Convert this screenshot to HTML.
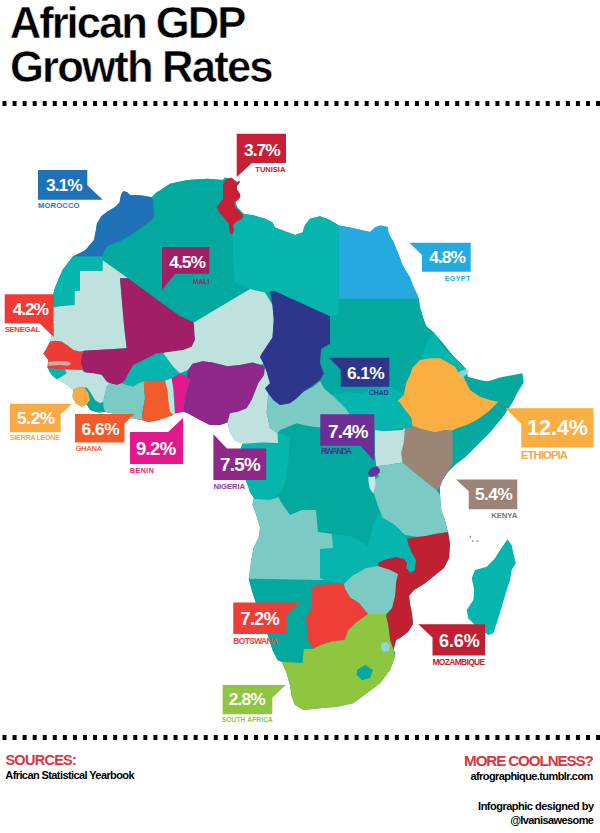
<!DOCTYPE html>
<html><head><meta charset="utf-8"><style>
html,body{margin:0;padding:0;background:#fff;}
body{width:600px;height:833px;overflow:hidden;position:relative;font-family:"Liberation Sans",sans-serif;}
svg{position:absolute;left:0;top:0;}
text{font-family:"Liberation Sans",sans-serif;font-weight:bold;}
</style></head><body>
<svg width="600" height="833" viewBox="0 0 600 833">
<g fill="#000"><rect x="2.50" y="101" width="4" height="5"/><rect x="12.56" y="101" width="4" height="5"/><rect x="22.62" y="101" width="4" height="5"/><rect x="32.68" y="101" width="4" height="5"/><rect x="42.74" y="101" width="4" height="5"/><rect x="52.80" y="101" width="4" height="5"/><rect x="62.86" y="101" width="4" height="5"/><rect x="72.92" y="101" width="4" height="5"/><rect x="82.98" y="101" width="4" height="5"/><rect x="93.04" y="101" width="4" height="5"/><rect x="103.10" y="101" width="4" height="5"/><rect x="113.16" y="101" width="4" height="5"/><rect x="123.22" y="101" width="4" height="5"/><rect x="133.28" y="101" width="4" height="5"/><rect x="143.34" y="101" width="4" height="5"/><rect x="153.40" y="101" width="4" height="5"/><rect x="163.46" y="101" width="4" height="5"/><rect x="173.52" y="101" width="4" height="5"/><rect x="183.58" y="101" width="4" height="5"/><rect x="193.64" y="101" width="4" height="5"/><rect x="203.70" y="101" width="4" height="5"/><rect x="213.76" y="101" width="4" height="5"/><rect x="223.82" y="101" width="4" height="5"/><rect x="233.88" y="101" width="4" height="5"/><rect x="243.94" y="101" width="4" height="5"/><rect x="254.00" y="101" width="4" height="5"/><rect x="264.06" y="101" width="4" height="5"/><rect x="274.12" y="101" width="4" height="5"/><rect x="284.18" y="101" width="4" height="5"/><rect x="294.24" y="101" width="4" height="5"/><rect x="304.30" y="101" width="4" height="5"/><rect x="314.36" y="101" width="4" height="5"/><rect x="324.42" y="101" width="4" height="5"/><rect x="334.48" y="101" width="4" height="5"/><rect x="344.54" y="101" width="4" height="5"/><rect x="354.60" y="101" width="4" height="5"/><rect x="364.66" y="101" width="4" height="5"/><rect x="374.72" y="101" width="4" height="5"/><rect x="384.78" y="101" width="4" height="5"/><rect x="394.84" y="101" width="4" height="5"/><rect x="404.90" y="101" width="4" height="5"/><rect x="414.96" y="101" width="4" height="5"/><rect x="425.02" y="101" width="4" height="5"/><rect x="435.08" y="101" width="4" height="5"/><rect x="445.14" y="101" width="4" height="5"/><rect x="455.20" y="101" width="4" height="5"/><rect x="465.26" y="101" width="4" height="5"/><rect x="475.32" y="101" width="4" height="5"/><rect x="485.38" y="101" width="4" height="5"/><rect x="495.44" y="101" width="4" height="5"/><rect x="505.50" y="101" width="4" height="5"/><rect x="515.56" y="101" width="4" height="5"/><rect x="525.62" y="101" width="4" height="5"/><rect x="535.68" y="101" width="4" height="5"/><rect x="545.74" y="101" width="4" height="5"/><rect x="555.80" y="101" width="4" height="5"/><rect x="565.86" y="101" width="4" height="5"/><rect x="575.92" y="101" width="4" height="5"/><rect x="585.98" y="101" width="4" height="5"/><rect x="596.04" y="101" width="4" height="5"/><rect x="2.50" y="735" width="4" height="5"/><rect x="12.56" y="735" width="4" height="5"/><rect x="22.62" y="735" width="4" height="5"/><rect x="32.68" y="735" width="4" height="5"/><rect x="42.74" y="735" width="4" height="5"/><rect x="52.80" y="735" width="4" height="5"/><rect x="62.86" y="735" width="4" height="5"/><rect x="72.92" y="735" width="4" height="5"/><rect x="82.98" y="735" width="4" height="5"/><rect x="93.04" y="735" width="4" height="5"/><rect x="103.10" y="735" width="4" height="5"/><rect x="113.16" y="735" width="4" height="5"/><rect x="123.22" y="735" width="4" height="5"/><rect x="133.28" y="735" width="4" height="5"/><rect x="143.34" y="735" width="4" height="5"/><rect x="153.40" y="735" width="4" height="5"/><rect x="163.46" y="735" width="4" height="5"/><rect x="173.52" y="735" width="4" height="5"/><rect x="183.58" y="735" width="4" height="5"/><rect x="193.64" y="735" width="4" height="5"/><rect x="203.70" y="735" width="4" height="5"/><rect x="213.76" y="735" width="4" height="5"/><rect x="223.82" y="735" width="4" height="5"/><rect x="233.88" y="735" width="4" height="5"/><rect x="243.94" y="735" width="4" height="5"/><rect x="254.00" y="735" width="4" height="5"/><rect x="264.06" y="735" width="4" height="5"/><rect x="274.12" y="735" width="4" height="5"/><rect x="284.18" y="735" width="4" height="5"/><rect x="294.24" y="735" width="4" height="5"/><rect x="304.30" y="735" width="4" height="5"/><rect x="314.36" y="735" width="4" height="5"/><rect x="324.42" y="735" width="4" height="5"/><rect x="334.48" y="735" width="4" height="5"/><rect x="344.54" y="735" width="4" height="5"/><rect x="354.60" y="735" width="4" height="5"/><rect x="364.66" y="735" width="4" height="5"/><rect x="374.72" y="735" width="4" height="5"/><rect x="384.78" y="735" width="4" height="5"/><rect x="394.84" y="735" width="4" height="5"/><rect x="404.90" y="735" width="4" height="5"/><rect x="414.96" y="735" width="4" height="5"/><rect x="425.02" y="735" width="4" height="5"/><rect x="435.08" y="735" width="4" height="5"/><rect x="445.14" y="735" width="4" height="5"/><rect x="455.20" y="735" width="4" height="5"/><rect x="465.26" y="735" width="4" height="5"/><rect x="475.32" y="735" width="4" height="5"/><rect x="485.38" y="735" width="4" height="5"/><rect x="495.44" y="735" width="4" height="5"/><rect x="505.50" y="735" width="4" height="5"/><rect x="515.56" y="735" width="4" height="5"/><rect x="525.62" y="735" width="4" height="5"/><rect x="535.68" y="735" width="4" height="5"/><rect x="545.74" y="735" width="4" height="5"/><rect x="555.80" y="735" width="4" height="5"/><rect x="565.86" y="735" width="4" height="5"/><rect x="575.92" y="735" width="4" height="5"/><rect x="585.98" y="735" width="4" height="5"/><rect x="596.04" y="735" width="4" height="5"/></g>
<polygon fill="#03a99f" points="123.2,191.2 127,192 130,195 136,195 143.5,195.7 151.7,197.2 157,192 160,190.5 170,183.75 187.5,180 207.5,178.75 222.5,180 225,177.5 232.5,178.75 238.75,182.5 236,187.5 240,193.75 235,201 237.5,207.5 243.75,213.75 252.5,215 265,218.75 272.5,222.5 275,227.5 285,231.25 295,235 302.5,232.5 305,225 310,218.75 320,216.25 330,220 338.75,225.5 350,227.5 361,230 370,232 375,227.5 380,225.5 387.5,227 388.75,233.75 393.75,242.5 398.75,255 402.5,265 410,277.5 413.75,287.5 417.5,295 420,307.5 423.75,320 426.25,326.25 433.75,332.5 442.5,342.5 452.5,355 462.5,365 466,369 468,377 480,380 492.5,382.5 505,380 517.5,375 522.5,373.75 523.75,382.5 517.5,392.5 512.5,402.5 502.5,417.5 490,432.5 477.5,445 465,457.5 455,465 452.5,467.5 447.5,472.5 442.5,480 440,487 440,495 441.25,510 445,520 448,532 450,544 449,558 444,568 434,576 424,584 414,590 409,596 410,604 412,614 413,624 408,632 400,638 396,640 394,648 393.5,650 395,651.7 395,656.7 390,670 380,683.3 366.7,693.3 353.3,703.3 336.7,706.7 320,708.3 303.3,710 295,705 291.7,696.7 290,685 286.7,673.3 281.7,661.7 277.5,660 272.5,650 268.75,637.5 262.5,622.5 257.5,607.5 252.5,592.5 248.75,578.75 250,570 251.25,560 253.75,547.5 258.75,537.5 260,527.5 256.25,515 252.5,505 253.75,497.5 250,492.5 247.5,485 243,470 238,456 242.5,443.75 235,440 230,432.5 227.5,422.5 220,425 210,425 200,420 186.25,412.5 183.3,411.7 175,413.3 173.3,415 165,418 155,421 148,422 142,420 130,418 115,414 105,411.7 98.3,412.5 90,410 86.7,404.2 81.7,406.7 75.8,403.3 72.5,396.7 73.3,390 65,383.3 56.7,379.2 51.7,375 50,372.5 47.5,367.5 48.3,360 43.3,353.3 45.8,350 50,341.7 55,322.5 53.75,307.5 52.5,297.5 55,287.5 62.5,270 73,256.3 85,250.5 94,240 96,229.5 97,223.5 101.5,216 107.5,211.5 115,207 119.5,202.5 121,195"/><polygon fill="#05b5ae" points="507.5,539.2 511.7,545 513.3,553.3 515.8,563.3 511.7,570 510,580 506.7,590 501.7,606.7 496.7,623.3 493.3,633.3 488.3,635 476.7,626.7 468.3,618.3 466.7,610 473.3,600 474.2,590 471.7,578.3 475,570 486.7,566.7 495,558.3 500,550"/><polygon fill="#05b5ae" points="73,256.3 102.7,256.3 102.7,271 80,271 80,291 74.7,291 74.7,305 60,306.3 53.75,307.5 52.5,297.5 55,287.5 62.5,270"/><polygon fill="#03a99f" points="151.7,197.2 157,192 160,190.5 170,183.75 187.5,180 207.5,178.75 223,180 225,180 223,185 223,199 220,203 217,207 219,212 225,219 229,224 229,229 230.5,234 232.5,234 233,245 232.5,260 235,282.5 250,289 193.75,322.5 128,278.3 102.7,260.3 102.7,256.3 104.5,250.5 107.5,246 122.5,240 130,235.5 139,229.5 153,219 154,216 153,199.5"/><polygon fill="#05b5ae" points="243,215 252.5,215 265,218.75 272.5,222.5 275,227.5 285,231.25 295,235 302.5,232.5 305,225 310,218.75 320,216.25 330,220 338.75,225.5 338.75,298.75 338.75,315 330,316.25 275,291.25 270,291.25 265,292.5 250,289 235,282.5 232.5,260 233,245 232.5,234 234,230 233,225 237,221 242,219"/><polygon fill="#03a99f" points="338.75,298.75 419,298.75 420,307.5 423.75,320 426.25,326.25 433.75,332.5 428,340 424,350 420,360 412.5,367.5 410,375 406.25,382.5 403.75,395 390,386 375,390 360,393 345,392 330,395 323.75,388 320,380 323.75,373.75 320,362.5 321.25,348.75 330,343.75 330,316.25 338.75,315"/><polygon fill="#05b5ae" points="330,395 345,392 360,393 375,390 390,386 403.75,395 397.5,401.25 400,402.5 405,410 411.25,417.5 412.5,426.25 405,428 393,429.5 384,431 379.5,432.5 375,430 362,428 352,422 349.5,414 345.8,408.5 336.7,399.3"/><polygon fill="#05b5ae" points="433.75,332.5 438.3,340 443.3,348.3 450,353.3 456.7,360 463.3,366.7 466.7,370 465,369.2 459.2,371.7 455,366.7 446.7,361.7 440,358.3 430,358.3 420,360 424,350 428,340"/><polygon fill="#03a99f" points="464.2,375.8 466.7,380 473.3,383.3 481.7,382.5 490,380.8 500,377.5 513.3,375 521.7,373.3 522.5,381.7 518.3,388.3 515,395 510,403.3 505,410 496.7,416.7 485,426.7 473.3,437 465,447 458,457 452.5,467.5 452.5,462.5 452.5,435 451.7,430.8 456.7,428.3 466.7,425 476.7,420 488.3,411.7 498.3,401.7 490,400 480,396.7 470,390 464.2,378.3"/><polygon fill="#05b5ae" points="242.5,443.75 262.5,442.5 274,443.7 277.5,433 290,437 289,450 288,465 286,480 282,492 278,495 270,500 259,500 254,497.7 250,489.7 246,481.7 243,470 238,456"/><polygon fill="#05b5ae" points="320,549 333,548 333,534 350,536 368,546 372,528 378,512 390,520 402,526 406,532 404,540 402,554 404,559 396,557 384,560 378,563 378,566 366,568 352,576 344,584 338,583 325,580 320,578"/><polygon fill="#05b5ae" points="404,538 407,539 409,546 412,553 416,560 415,570 411,573 406,568 407,563 404,559 402,554"/><polygon fill="#03a99f" points="248.75,578.75 252.5,592.5 257.5,607.5 262.5,622.5 268.75,637.5 272.5,650 277.5,660 281.7,661.7 302.5,663 303.75,647.5 310,647 310,635 306.25,633.75 307.5,620 310,605 310,588.75 317.5,585 337.5,583.75 325,580 317.5,580"/><polygon fill="#05b5ae" points="133.3,365 146.7,358.3 156.7,353.3 163.3,353.3 168.3,360 173.3,366.7 180,373.3 171.7,378.3 165,380.8 144.2,380.8 138.3,383.3 133.3,386.7 126.7,385 121.7,383.3 125,380 128.3,373.3"/><polygon fill="#03a99f" points="86.7,404.2 91.7,400 96.7,401.7 100,403.3 103.3,406.7 105,411.7 98.3,412.5 90,410"/><polygon fill="#05b5ae" points="47.5,367.5 50,368.3 65,369.2 65,370 66.7,373.3 61.7,376.7 56.7,379.2 51.7,375 50,372.5"/><polygon fill="#1f72b8" points="123.2,191.2 127,192 130,195 136,195 143.5,195.7 151.7,197.2 153,199.5 154,216 153,219 139,229.5 130,235.5 122.5,240 107.5,246 104.5,250.5 102.7,256.3 73,256.3 85,250.5 94,240 96,229.5 97,223.5 101.5,216 107.5,211.5 115,207 119.5,202.5 121,195"/><polygon fill="#c0e2df" points="80,271 102.7,271 102.7,260.3 128,278.3 120,278.3 124,325 126.7,348.3 84.2,350.8 80,351.7 73.3,350 66.7,345 61.7,341.7 55,340.8 50,341.7 55,322.5 53.75,307.5 60,306.3 74.7,305 74.7,291 80,291"/><polygon fill="#a01f66" points="120,278.3 128,278.3 170,309 180,316 193.75,322.5 195,340 191.7,346.7 183.3,350 165,352.5 156.7,353.3 146.7,358.3 133.3,365 128.3,373.3 125,380 121.7,383.3 116.7,385 110,383.3 106.7,381.7 101.7,375 93.3,373.3 85,372.5 82.5,368.3 80.8,363.3 81.7,355 84.2,350.8 126.7,348.3 124,325"/><polygon fill="#ef3b36" points="50,341.7 55,340.8 61.7,341.7 66.7,345 73.3,350 80,351.7 84.2,350.8 81.7,355 80.8,363.3 82.5,368.3 81.7,370 65,369.2 50,368.3 47.5,367.5 48.3,360 43.3,353.3 45.8,350"/><polygon fill="#c9aea6" points="48.3,361.7 60,361 68.3,361.7 71,363.5 68.3,365.8 60,365 48.3,365.8"/><polygon fill="#c0e2df" points="56.7,379.2 61.7,376.7 66.7,373.3 65,369.5 81.7,370 85,372.5 93.3,373.3 101.7,375 106.7,381.7 110,383.3 106.7,386.7 103.3,401.7 100,403.3 95,400 90,391.7 86.7,387.5 78.3,387.5 73.3,390 65,383.3"/><polygon fill="#7ccac4" points="103.3,401.7 106.7,386.7 110,383.3 116.7,385 121.7,383.3 126.7,385 133.3,386.7 138.3,383.3 145,380.8 144.2,388.3 145,398.3 142.5,411.7 142,420 130,418 115,414 105,411.7 103.3,406.7"/><polygon fill="#f9aa45" points="73.3,390 78.3,387.5 85,388.3 88.3,393.3 90,400 86.7,404.2 81.7,406.7 75.8,403.3 72.5,396.7"/><polygon fill="#f15a2b" points="144.2,380.8 165,380.8 167.5,390 168.3,400 170,411.7 173.3,415 165,418 155,421 148,422 142,420 142.5,411.7 145,398.3 144.2,388.3"/><polygon fill="#c0e2df" points="165,380.8 171.7,378.3 173.3,390 175,413.3 173.3,415 170,411.7 168.3,400 167.5,390"/><polygon fill="#e2198c" points="171.7,378.3 180,373.3 186.7,376.7 190,380 186.7,390 185,398.3 183.3,411.7 176.7,413.3 175,413.3 174.2,390"/><polygon fill="#c0e2df" points="193.75,322.5 250,289 265,292.5 272.5,305 273.75,320 272.5,337.5 262.5,352.5 260,357 263.3,363.3 261.25,365 252.5,362.5 240,365 227.5,366.25 212.5,362.5 202.5,361.25 192.5,363.75 188,370 180,373.3 173.3,366.7 168.3,360 163.3,353.3 165,352.5 183.3,350 191.7,346.7 195,340"/><polygon fill="#90288c" points="188,370 192.5,363.75 202.5,361.25 212.5,362.5 227.5,366.25 240,365 252.5,362.5 261.25,365 265,366.7 264.2,375 258.3,383.3 255,391.7 251.7,400 246.7,408.3 238.3,411.7 230,413.3 227.5,422.5 220,425 210,425 200,420 186.25,412.5 183.3,411.7 185,398.3 186.7,390 190,380 186.7,376.7"/><polygon fill="#c0e2df" points="227.5,422.5 230,413.3 238.3,411.7 246.7,408.3 251.7,400 255,391.7 258.3,383.3 264.2,375 265,366.7 263.3,363.3 266.7,371.7 270,383.3 265,388.3 268.3,393.3 266.7,413 270,428 277.5,433 278,443 262.5,442.5 242.5,443.75 235,440 230,432.5"/><polygon fill="#7ccac4" points="266.7,413 268.3,393.3 273.3,400 280,405 290,403.3 296.7,398.3 303.3,391.7 313.3,386.7 320.2,381 323.8,388.3 336.7,399.3 345.8,408.5 349.5,414 352,422 340,427 330,428.3 313.3,426.7 303.3,425 296.7,423.3 280,430 277.5,433 270,428"/><polygon fill="#2e368c" points="270,291.25 275,291.25 330,316.25 330,343.75 321.25,348.75 320,362.5 323.75,373.75 320,380 310,387.5 303.3,391.7 296.7,398.3 290,403.3 280,405 273.3,400 268.3,393.3 265,388.3 270,383.3 266.7,371.7 263.3,363.3 260,356.7 262.5,352.5 272.5,337.5 273.75,320 272.5,305"/><polygon fill="#26a9e1" points="338.75,225.5 350,227.5 361,230 370,232 375,227.5 380,225.5 387.5,227 388.75,233.75 393.75,242.5 398.75,255 402.5,265 410,277.5 413.75,287.5 417.5,295 419,298.75 338.75,298.75"/><polygon fill="#c91f36" points="227,179 231,177.5 234,179.5 236,183 239,180.5 240,182 237,186 237,190 240,194 240.5,197 238,200 234,203 235,207 240,212 243,215 242,219 237,221 233,225 234,230 232.5,234 230.5,234 229,229 229,224 225,219 219,212 217,207 220,203 223,199 223,185 225,180"/><polygon fill="#fbae42" points="412.5,367.5 420,360 430,358.3 440,358.3 446.7,361.7 455,366.7 459.2,373.3 464.2,378.3 470,390 480,396.7 490,400 498.3,401.7 488.3,411.7 476.7,420 466.7,425 456.7,428.3 451.7,430.8 445,430 435,432.5 420,428.75 412.5,426.25 411.25,417.5 405,410 400,402.5 397.5,401.25 403.75,395 406.25,382.5 410,375"/><polygon fill="#8dd2d6" points="459.2,371.7 465,369.2 469.2,370.8 465.8,375 463.3,377.5 459.2,376.7"/><polygon fill="#9c8577" points="405,428 415,426.25 420,428.75 435,432.5 445,430 451.7,430.8 452.5,435 452.5,462.5 447.5,472.5 442.5,480 440,487 436.25,490 417.5,475 402.5,462.5 401.25,452.5 403.75,442.5"/><polygon fill="#c0e2df" points="375,430 382.5,431.25 402.5,430 405,427.5 403.75,442.5 401.25,452.5 402.5,462.5 387.5,465 376.25,466.25 375,455"/><polygon fill="#7ccac4" points="376.25,466.25 387.5,465 402.5,462.5 417.5,475 436.25,490 440,495 441.25,510 445,520 447.5,532.5 435,533.75 420,537.5 405,535 395,525 382.5,517.5 377.5,505 373.75,492.5 373.75,480 378.8,477"/><polygon fill="#6d2f95" points="368.3,472 371,468 374,467 377,466.3 379.7,469 379.7,472.3 377,475 371.7,477 368.3,474.5"/><polygon fill="#c8e6e3" points="368.3,477 371.7,477 375,476.5 375.5,484 373.5,494 370,489 368.5,482"/><polygon fill="#7ccac4" points="253.75,498.75 270,500 278,497 283,505 290,515 302,510 316,510 318,532 332,534 333,548 320,549 320,578 325,580 317.5,580 248.75,578.75 250,570 251.25,560 253.75,547.5 258.75,537.5 260,527.5 256.25,515 252.5,505"/><polygon fill="#c02032" points="407,539 416,537 426,536 436,534 448,532 450,544 449,558 444,568 434,576 424,584 414,590 409,596 410,604 412,614 413,624 408,632 400,638 396,640 394,648 393.5,650 390,640 388,624 386,616 392,608 395,596 396,582 398,574 390,570 379,567 378,563 384,560 396,557 404,559 407,563 406,568 411,573 415,570 416,560 412,553 409,546"/><polygon fill="#7ccac4" points="344,584 352,576 366,568 378,566 390,570 398,574 396,582 395,596 392,608 386,614 374,614 368,614 364.7,610 359,603 350,597.5 344.5,588"/><polygon fill="#ef3e38" points="310,588.75 317.5,585 337.5,583.75 344,584 344.5,588 350,597.5 359,603 364.7,610 368,614 355.5,623 348,630.5 344.5,640 331.7,641.5 320.7,645 313,649 308,640 306,617.6 311.5,608.5 312.4,590"/><polygon fill="#8fc63f" points="281.7,661.7 302.5,663 303.75,649 313,649 320.7,645 331.7,641.5 344.5,640 348,630.5 355.5,623 368,614 374,614 386,614 386,616 388,624 390,640 393.5,650 395,656.7 390,670 380,683.3 366.7,693.3 353.3,703.3 336.7,706.7 320,708.3 303.3,710 295,705 291.7,696.7 290,685 286.7,673.3"/><polygon fill="#93d2e0" points="381.7,643 386,641.7 390,645 389,651 383,651.7 381,648"/><polygon fill="#03a99f" points="357,670 365,665 373,670 370,678 362,680 356.7,675"/><g fill="#9aa"><ellipse cx="470.3" cy="537" rx="0.9" ry="1.6"/><ellipse cx="472.8" cy="541" rx="0.9" ry="0.9"/><ellipse cx="477.5" cy="541" rx="1.1" ry="1.1"/></g><polygon fill="#1f72b8" points="38,170 87.3,170 87.3,185.3 102.7,199.7 38,199.7"/><polygon fill="#c91f36" points="236.7,133.7 286,133.7 286,163 252,163 236.7,177"/><polygon fill="#26a9e1" points="409.3,242.7 470.7,242.7 470.7,271.7 422,271.7 422,255"/><polygon fill="#a01f66" points="162,247 209.3,247 209.3,273.7 175.3,273.7 162,289.7"/><polygon fill="#ef3b36" points="4.7,294.3 53.7,294.3 53.7,337 39.7,323.5 4.7,323.5"/><polygon fill="#2e368c" points="328.7,357.7 389.3,357.7 389.3,386.7 340.7,386.7 340.7,369.3"/><polygon fill="#fbae42" points="505.5,408.2 593.5,408.2 593.5,447.6 521.25,447.6 521.25,423.9"/><polygon fill="#f9aa45" points="10,403.7 72,403.7 60.7,414.3 60.7,432.3 10,432.3"/><polygon fill="#f15a2b" points="75,414 134.5,414 124.5,423.5 124.5,442.5 75,442.5"/><polygon fill="#e2198c" points="130,432 168,432 183,418 183,464 130,464"/><polygon fill="#90288c" points="213.4,434.3 227,448.4 266.2,448.4 266.2,480 213.4,480"/><polygon fill="#6d2f95" points="320.3,414.3 374.3,414.3 374.3,461 360.3,445.7 320.3,445.7"/><polygon fill="#9c8577" points="456,479.6 517.3,479.6 517.3,509.3 468.7,509.3 468.7,491.3"/><polygon fill="#ef3e38" points="233.25,602.5 299.25,602.5 286.5,614.5 286.5,634 233.25,634"/><polygon fill="#c02032" points="418.25,624.3 485,624.3 485,655.5 432.5,655.5 432.5,637.5"/><polygon fill="#8fc63f" points="222.7,685 285.7,685 272.3,697.7 272.3,714.3 222.7,714.3"/>
<text x="9.70" y="37.5" font-size="43.6" fill="#000" stroke="#fff" stroke-width="0.5" textLength="236.58" lengthAdjust="spacing">African GDP</text><text x="10.00" y="81.5" font-size="43.6" fill="#000" stroke="#fff" stroke-width="0.5" textLength="263.61" lengthAdjust="spacing">Growth Rates</text><text x="46.00" y="191" font-size="17.4" fill="#fff" textLength="36.64" lengthAdjust="spacing">3.1%</text><text x="244.00" y="155.5" font-size="17.4" fill="#fff" textLength="36.64" lengthAdjust="spacing">3.7%</text><text x="429.30" y="263" font-size="17.4" fill="#fff" textLength="36.64" lengthAdjust="spacing">4.8%</text><text x="169.30" y="268.2" font-size="17.4" fill="#fff" textLength="36.64" lengthAdjust="spacing">4.5%</text><text x="12.80" y="315" font-size="17.4" fill="#fff" textLength="36.24" lengthAdjust="spacing">4.2%</text><text x="347.00" y="378.7" font-size="17.4" fill="#fff" textLength="37.64" lengthAdjust="spacing">6.1%</text><text x="527.00" y="435" font-size="21.5" fill="#fff" textLength="60.97" lengthAdjust="spacing">12.4%</text><text x="17.00" y="424.3" font-size="17.4" fill="#fff" textLength="38.34" lengthAdjust="spacing">5.2%</text><text x="81.50" y="434.5" font-size="17.4" fill="#fff" textLength="38.14" lengthAdjust="spacing">6.6%</text><text x="136.00" y="455.3" font-size="18.5" fill="#fff" textLength="40.17" lengthAdjust="spacing">9.2%</text><text x="220.00" y="470.5" font-size="18.8" fill="#fff" textLength="40.81" lengthAdjust="spacing">7.5%</text><text x="328.00" y="437.5" font-size="18.8" fill="#fff" textLength="40.51" lengthAdjust="spacing">7.4%</text><text x="475.00" y="500" font-size="17.4" fill="#fff" textLength="37.64" lengthAdjust="spacing">5.4%</text><text x="240.50" y="624.8" font-size="18" fill="#fff" textLength="39.28" lengthAdjust="spacing">7.2%</text><text x="439.00" y="647" font-size="18" fill="#fff" textLength="40.78" lengthAdjust="spacing">6.6%</text><text x="228.70" y="705" font-size="17.4" fill="#fff" textLength="36.94" lengthAdjust="spacing">2.8%</text><text x="38.00" y="208" font-size="7.7" fill="#2a75bf" textLength="41.50" lengthAdjust="spacing">MOROCCO</text><text x="255.30" y="171.7" font-size="7.5" fill="#c8202f" textLength="30.00" lengthAdjust="spacing">TUNISIA</text><text x="444.70" y="281" font-size="7.2" fill="#2ba8df" textLength="25.68" lengthAdjust="spacing">EGYPT</text><text x="192.70" y="284.3" font-size="7" fill="#a01d6c" textLength="16.71" lengthAdjust="spacing">MALI</text><text x="4.70" y="331.7" font-size="8" fill="#ee4136" textLength="35.67" lengthAdjust="spacing">SENEGAL</text><text x="368.70" y="394.7" font-size="7" fill="#2e3192" textLength="20.23" lengthAdjust="spacing">CHAD</text><text x="521.00" y="459" font-size="11.2" fill="#f6a84a" textLength="46.84" lengthAdjust="spacing">ETHIOPIA</text><text x="10.00" y="440.3" font-size="7.4" fill="#f7a94a" textLength="50.17" lengthAdjust="spacing">SIERRA LEONE</text><text x="75.50" y="451" font-size="7.7" fill="#f26a37" textLength="26.69" lengthAdjust="spacing">GHANA</text><text x="130.00" y="472.6" font-size="7" fill="#e4197b" textLength="23.78" lengthAdjust="spacing">BENIN</text><text x="213.50" y="489" font-size="7.7" fill="#8d3a96" textLength="31.55" lengthAdjust="spacing">NIGERIA</text><text x="321.00" y="454.3" font-size="8.3" fill="#3b3a8c" textLength="30.89" lengthAdjust="spacing">RWANDA</text><text x="491.30" y="518.3" font-size="7.8" fill="#7b7472" textLength="25.98" lengthAdjust="spacing">KENYA</text><text x="233.25" y="643.75" font-size="8.4" fill="#ee4036" textLength="44.86" lengthAdjust="spacing">BOTSWANA</text><text x="432.50" y="664.5" font-size="8.4" fill="#c8202f" textLength="52.66" lengthAdjust="spacing">MOZAMBIQUE</text><text x="221.70" y="721.7" font-size="6.6" fill="#8cc63f" textLength="51.18" lengthAdjust="spacing">SOUTH AFRICA</text><text x="5.40" y="764.7" font-size="14.5" fill="#dc3540" textLength="71.45" lengthAdjust="spacing">SOURCES:</text><text x="5.30" y="779.3" font-size="11" fill="#000" textLength="129.31" lengthAdjust="spacing">African Statistical Yearbook</text><text x="464.10" y="765.5" font-size="15.2" fill="#dc3540" textLength="129.70" lengthAdjust="spacing">MORE COOLNESS?</text><text x="470.50" y="779.5" font-size="11" fill="#000" textLength="122.80" lengthAdjust="spacing">afrographique.tumblr.com</text><text x="478.10" y="809.9" font-size="11" fill="#000" textLength="116.02" lengthAdjust="spacing">Infographic designed by</text><text x="510.20" y="824.2" font-size="11" fill="#000" textLength="83.74" lengthAdjust="spacing">@Ivanisawesome</text>
</svg>
</body></html>
